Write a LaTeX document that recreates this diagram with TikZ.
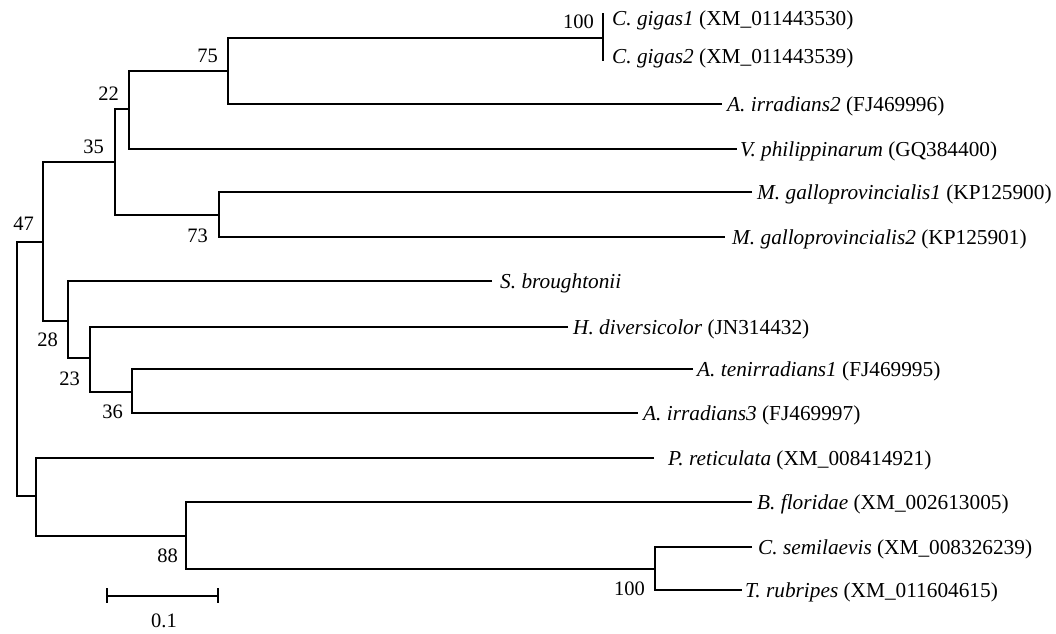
\documentclass[tikz,border=0pt]{standalone}
\usepackage{fontspec}
\setmainfont{Liberation Serif}
\begin{document}
\begin{tikzpicture}[x=1pt,y=-1pt,
  branch/.style={line width=2pt,line join=miter,line cap=butt},
  taxon/.style={anchor=base west,inner sep=0pt,font=\fontsize{21.3}{25}\selectfont},
  boot/.style={anchor=base east,inner sep=0pt,font=\fontsize{20.5}{24}\selectfont}]
\useasboundingbox (0,0) rectangle (1056,633);

% internal nodes (x = distance from root, y = vertical position)
\coordinate (R)    at (17,369);
\coordinate (N47)  at (43,242);
\coordinate (N35)  at (115,162);
\coordinate (N22)  at (129,109);
\coordinate (N75)  at (228,71);
\coordinate (Ncg)  at (603,38);
\coordinate (N73)  at (219,215);
\coordinate (N28)  at (68,321);
\coordinate (N23)  at (90,358);
\coordinate (N36)  at (132,392);
\coordinate (Nb)   at (36,496);
\coordinate (N88)  at (186,536);
\coordinate (Nf)   at (655,569);

% leaf tips
\coordinate (cg1) at (603,13);
\coordinate (cg2) at (603,61);
\coordinate (ai2) at (722,104);
\coordinate (vp)  at (737,149);
\coordinate (mg1) at (752,192);
\coordinate (mg2) at (725,237);
\coordinate (sbr) at (492,281);
\coordinate (hd)  at (568,327);
\coordinate (at1) at (693,369);
\coordinate (ai3) at (638,413);
\coordinate (pr)  at (654,458);
\coordinate (bf)  at (752,502);
\coordinate (cs)  at (752,547);
\coordinate (tr)  at (742,590);

% branches
\draw[branch] (N47) -| (R) |- (Nb);
\draw[branch] (N35) -| (N47) |- (N28);
\draw[branch] (N22) -| (N35) |- (N73);
\draw[branch] (N75) -| (N22) |- (vp);
\draw[branch] (Ncg) -| (N75) |- (ai2);
\draw[branch] (cg1) -- (cg2);
\draw[branch] (mg1) -| (N73) |- (mg2);
\draw[branch] (sbr) -| (N28) |- (N23);
\draw[branch] (hd) -| (N23) |- (N36);
\draw[branch] (at1) -| (N36) |- (ai3);
\draw[branch] (pr) -| (Nb) |- (N88);
\draw[branch] (bf) -| (N88) |- (Nf);
\draw[branch] (cs) -| (Nf) |- (tr);

% taxon names
\node[taxon] (Lcg1) at (612,25)  {\textit{C. gigas1} (XM\_011443530)};
\node[taxon] (Lcg2) at (612,63)  {\textit{C. gigas2} (XM\_011443539)};
\node[taxon] (Lai2) at (727,111) {\textit{A. irradians2} (FJ469996)};
\node[taxon] (Lvp)  at (740,156) {\textit{V. philippinarum} (GQ384400)};
\node[taxon] (Lmg1) at (757,199) {\textit{M. galloprovincialis1} (KP125900)};
\node[taxon] (Lmg2) at (732,244) {\textit{M. galloprovincialis2} (KP125901)};
\node[taxon] (Lsb)  at (500,288) {\textit{S. broughtonii}};
\node[taxon] (Lhd)  at (573,334) {\textit{H. diversicolor} (JN314432)};
\node[taxon] (Lat1) at (697,376) {\textit{A. tenirradians1} (FJ469995)};
\node[taxon] (Lai3) at (643,420) {\textit{A. irradians3} (FJ469997)};
\node[taxon] (Lpr)  at (668,465) {\textit{P. reticulata} (XM\_008414921)};
\node[taxon] (Lbf)  at (757,509) {\textit{B. floridae} (XM\_002613005)};
\node[taxon] (Lcs)  at (758,554) {\textit{C. semilaevis} (XM\_008326239)};
\node[taxon] (Ltr)  at (745,597) {\textit{T. rubripes} (XM\_011604615)};

% bootstrap values
\node[boot] (B100a) at (594,28)  {100};
\node[boot] (B75)   at (218,62)  {75};
\node[boot] (B22)   at (119,100) {22};
\node[boot] (B35)   at (104,153) {35};
\node[boot] (B73)   at (208,242) {73};
\node[boot] (B47)   at (34,230)  {47};
\node[boot] (B28)   at (58,346)  {28};
\node[boot] (B23)   at (80,385)  {23};
\node[boot] (B36)   at (123,418) {36};
\node[boot] (B88)   at (178,562) {88};
\node[boot] (B100b) at (645,595) {100};

% scale bar
\coordinate (sL) at (107,596);
\coordinate (sR) at (218,596);
\draw[branch] (sL) -- (sR);
\draw[branch] ([yshift=8pt]sL) -- ([yshift=-7pt]sL);
\draw[branch] ([yshift=8pt]sR) -- ([yshift=-7pt]sR);
\node[boot,anchor=base] (scl) at (164,627) {0.1};
\end{tikzpicture}
\end{document}
